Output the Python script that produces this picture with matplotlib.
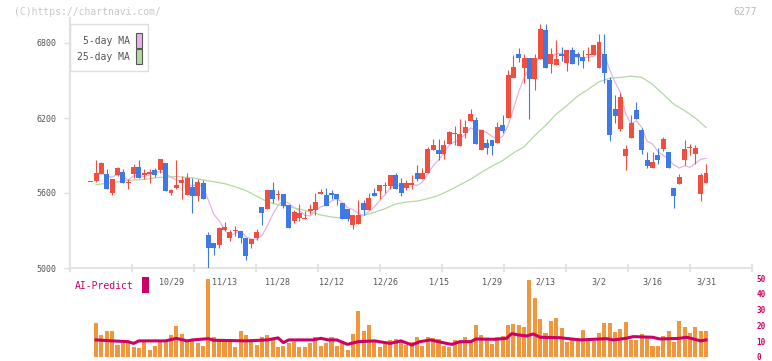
import numpy as np
import pandas as pd
import matplotlib
matplotlib.use('Agg')
import matplotlib.pyplot as plt
from matplotlib.patches import Rectangle
import matplotlib.transforms as mtransforms

# daily candles (oldest first)
opens = [5686, 5700, 5755, 5755, 5603, 5741, 5768, 5677, 5755, 5808,
         5744, 5752, 5784, 5787, 5840, 5603, 5643, 5683, 5587, 5648,
         5579, 5680, 5264, 5200, 5184, 5304, 5240, 5293, 5296, 5240,
         5192, 5240, 5488, 5472, 5624, 5588, 5592, 5504, 5376, 5400,
         5396, 5456, 5464, 5592, 5584, 5600, 5592, 5520, 5472, 5344,
         5352, 5520, 5464, 5600, 5616, 5660, 5656, 5744, 5680, 5640,
         5664, 5760, 5712, 5760, 5944, 5944, 5912, 5992, 6076, 5979,
         6080, 6176, 6184, 5944, 6000, 6024, 6000, 6144, 6197, 6520,
         6712, 6600, 6680, 6512, 6672, 6904, 6632, 6624, 6712, 6640,
         6744, 6712, 6688, 6704, 6704, 6600, 6712, 6504, 6272, 6112,
         5896, 6040, 6264, 6104, 5864, 5800, 5904, 5952, 5928, 5640,
         5672, 5864, 5960, 5912, 5592, 5680]
highs = [5690, 5864, 5845, 5792, 5715, 5810, 5792, 5712, 5832, 5867,
         5792, 5792, 5800, 5872, 5840, 5632, 5864, 5736, 5760, 5723,
         5715, 5704, 5288, 5200, 5331, 5368, 5301, 5336, 5296, 5240,
         5232, 5309, 5488, 5624, 5688, 5624, 5592, 5504, 5464, 5512,
         5456, 5512, 5600, 5632, 5640, 5624, 5592, 5520, 5472, 5424,
         5544, 5544, 5600, 5640, 5664, 5688, 5744, 5760, 5720, 5704,
         5744, 5824, 5800, 5968, 6032, 6032, 6024, 6096, 6136, 6192,
         6184, 6274, 6208, 6104, 6032, 6024, 6168, 6224, 6584, 6704,
         6760, 6712, 6680, 6712, 6952, 6952, 6760, 6824, 6768, 6744,
         6768, 6728, 6744, 6768, 6784, 6872, 6872, 6528, 6384, 6400,
         5984, 6224, 6328, 6120, 5928, 5928, 5960, 6048, 5928, 5640,
         5752, 6024, 5992, 5984, 5760, 5832]
lows = [5686, 5690, 5752, 5635, 5587, 5735, 5683, 5632, 5723, 5723,
        5712, 5683, 5728, 5763, 5619, 5587, 5635, 5555, 5587, 5443,
        5539, 5552, 5000, 5104, 5157, 5296, 5219, 5256, 5200, 5064,
        5160, 5224, 5344, 5472, 5520, 5544, 5480, 5320, 5360, 5379,
        5392, 5432, 5424, 5592, 5496, 5552, 5504, 5392, 5376, 5312,
        5352, 5424, 5464, 5576, 5552, 5600, 5632, 5632, 5576, 5624,
        5632, 5696, 5712, 5760, 5944, 5864, 5872, 5992, 5984, 5979,
        6040, 6176, 5992, 5944, 5912, 5904, 6000, 6080, 6197, 6520,
        6648, 6480, 6192, 6424, 6672, 6600, 6560, 6624, 6656, 6576,
        6632, 6624, 6600, 6656, 6704, 6600, 6480, 6016, 6160, 6096,
        5784, 6040, 6192, 5912, 5800, 5800, 5832, 5936, 5800, 5480,
        5672, 5824, 5904, 5832, 5536, 5680]
closes = [5690, 5760, 5840, 5635, 5712, 5800, 5683, 5683, 5808, 5723,
          5760, 5768, 5747, 5872, 5619, 5624, 5664, 5704, 5720, 5579,
          5688, 5552, 5163, 5163, 5323, 5328, 5288, 5299, 5240, 5099,
          5232, 5288, 5440, 5624, 5552, 5596, 5496, 5320, 5448, 5440,
          5404, 5472, 5528, 5608, 5496, 5584, 5552, 5392, 5392, 5424,
          5424, 5464, 5560, 5576, 5664, 5668, 5744, 5632, 5600, 5680,
          5680, 5712, 5760, 5952, 5984, 5912, 5984, 6088, 6084, 6072,
          6128, 6232, 5992, 6104, 5960, 5976, 6128, 6096, 6544, 6608,
          6680, 6680, 6512, 6680, 6912, 6600, 6712, 6672, 6696, 6744,
          6632, 6688, 6656, 6712, 6784, 6808, 6560, 6064, 6216, 6368,
          5952, 6160, 6192, 5944, 5816, 5848, 5864, 6032, 5800, 5576,
          5728, 5952, 5968, 5960, 5744, 5760]

# volume (right scale, first day has no bar)
volumes = [np.nan, 21.7, 13.9, 16.3, 16.3, 7.6, 8.6, 8.6, 6.5, 5.9,
           9.3, 4.4, 7.0, 9.3, 9.7, 13.9, 19.6, 14.6, 9.7, 10.8,
           9.1, 7.2, 49.4, 12.9, 10.8, 10.1, 10.1, 6.5, 16.3, 13.9,
           9.7, 7.6, 12.5, 13.9, 11.8, 6.5, 7.0, 9.1, 9.7, 6.5,
           6.5, 9.1, 12.5, 7.0, 8.6, 12.5, 7.0, 9.1, 4.4, 14.6,
           29.3, 16.7, 20.3, 9.7, 6.5, 8.3, 10.8, 11.4, 9.7, 7.6,
           9.3, 12.5, 7.0, 12.5, 11.8, 11.2, 7.0, 6.1, 10.8, 10.3,
           12.5, 10.8, 20.3, 13.7, 11.8, 8.2, 12.5, 13.3, 20.3, 20.9,
           20.3, 19.0, 48.7, 37.1, 24.0, 15.4, 22.8, 24.7, 18.4, 9.7,
           10.8, 11.8, 17.1, 10.8, 9.9, 15.2, 21.7, 21.7, 15.8, 17.7,
           22.2, 10.8, 10.8, 14.6, 11.8, 7.0, 7.0, 13.3, 16.5, 9.7,
           22.6, 19.0, 15.4, 19.0, 16.5, 16.5]

# AI-Predict line (index, value)
ai_idx = [1, 4, 7, 8, 9, 14, 16, 18, 19, 22, 23, 29, 33, 35, 36, 37, 41.5, 43,
          44.5, 46, 48, 50, 53, 56, 58, 60, 61.5, 63.5, 66.5, 67.5, 69, 71, 72,
          75.5, 77.7, 78.7, 80, 81.5, 82.7, 84, 87.7, 91.5, 94, 96.4, 97.7,
          100, 101.4, 105, 106.4, 110, 111.4, 114, 115]
ai_val = [10.8, 10.2, 9.7, 8.6, 10.2, 10.2, 11.8, 10.2, 10.8, 11.6, 10.6, 10.2,
          10.8, 12.1, 9.1, 10.8, 10.8, 11.8, 10.8, 10.8, 8.0, 9.7, 10.2, 8.6,
          10.2, 7.6, 9.7, 10.8, 8.6, 8.0, 9.7, 9.7, 11.4, 11.2, 11.8, 14.8,
          13.9, 13.3, 14.6, 12.5, 12.2, 10.8, 11.2, 11.6, 10.8, 11.8, 12.9,
          12.5, 11.4, 11.8, 12.5, 10.2, 10.8]

# 25-day moving average (index, value)
ma25_idx = [1, 4, 7, 10, 13, 16, 19, 21, 23, 25, 27, 29, 31, 33, 35, 37, 39,
            41, 43, 45, 47, 49, 51, 53, 55, 57, 59, 61, 63, 65, 67, 69, 71,
            73, 75, 77, 79, 81, 83, 85, 87, 89, 91, 93, 95, 97, 99, 101, 103,
            105, 107, 109, 111, 113, 115]
ma25_val = [5667, 5683, 5700, 5710, 5725, 5731, 5722, 5705, 5690, 5675, 5650,
            5620, 5575, 5530, 5506, 5490, 5472, 5450, 5424, 5408, 5400, 5405,
            5420, 5445, 5475, 5512, 5528, 5535, 5555, 5580, 5620, 5665, 5710,
            5765, 5815, 5860, 5920, 5970, 6060, 6140, 6230, 6300, 6375, 6430,
            6490, 6518, 6525, 6535, 6525, 6470, 6390, 6310, 6260, 6200, 6125]

date_idx = [15, 25, 35, 45, 55, 65, 75, 85, 95, 105, 115]
date_labels = ['10/29', '11/13', '11/28', '12/12', '12/26', '1/15',
               '1/29', '2/13', '3/2', '3/16', '3/31']
price_ticks = [5000, 5600, 6200, 6800]
vol_ticks = [0, 10, 20, 30, 40, 50]

UP = '#f04e3e'
DOWN = '#3d7ae8'
MAGENTA = '#cc0066'
MONO = 'DejaVu Sans Mono'

W, H = 772, 361
fig = plt.figure(figsize=(W / 100, H / 100), dpi=100)


def px_axes(l, t, r, b):
    return fig.add_axes([l / W, 1 - b / H, (r - l) / W, (b - t) / H])


x = np.arange(len(closes))
xlim = ((70 - 90.75) / 5.35, (752 - 90.75) / 5.35)

# price panel
ax = px_axes(70, 18, 752, 268)
o = np.array(opens)
c = np.array(closes)
colors = [UP if cc >= oo else DOWN for oo, cc in zip(o, c)]
ax.vlines(x, lows, highs, colors=colors, linewidth=0.8, zorder=3)
body = np.where(np.abs(c - o) < 8, 8, c - o)
ax.bar(x, body, bottom=o, width=0.92, color=colors, linewidth=0, zorder=4)

ma5 = pd.Series(closes).rolling(5, min_periods=1).mean()
ax.plot(x[1:], ma5[1:], color='#e6b3e8', linewidth=0.9, zorder=2)
ax.plot(ma25_idx, ma25_val, color='#b3d9a3', linewidth=0.9, zorder=2)

ax.set_xlim(*xlim)
ax.set_ylim(5000, 7000)
for s in ['top', 'right']:
    ax.spines[s].set_visible(False)
for s in ['left', 'bottom']:
    ax.spines[s].set_color('#e3e3e3')
    ax.spines[s].set_linewidth(1.5)
ax.set_yticks(price_ticks)
ax.set_yticklabels([str(p) for p in price_ticks], fontsize=6, color='#555555',
                   family=MONO)
ax.tick_params(axis='y', length=4, width=1, color='#dddddd', pad=6)
ax.set_xticks(np.linspace(xlim[0], xlim[1], 12))
ax.set_xticklabels([])
ax.tick_params(axis='x', length=6, width=1.5, color='#e3e3e3', direction='inout')

trans = mtransforms.blended_transform_factory(ax.transData, ax.transAxes)
for i, lab in zip(date_idx, date_labels):
    ax.text(i, -0.056, lab, transform=trans, ha='center', va='center',
            fontsize=6, color='#555555', family=MONO, clip_on=False)

# volume panel
vax = px_axes(70, 278, 752, 357)
vax.bar(x, volumes, width=0.75, color='#f0963c', linewidth=0, zorder=2)
vax.plot(ai_idx, ai_val, color=MAGENTA, linewidth=2.2, zorder=3)
vax.set_xlim(*xlim)
vax.set_ylim(0, 50)
for s in vax.spines.values():
    s.set_visible(False)
vax.set_xticks([])
vax.yaxis.tick_right()
vax.set_yticks(vol_ticks)
vax.set_yticklabels([str(v) for v in vol_ticks], fontsize=5.5, color=MAGENTA,
                    family=MONO, fontweight='bold')
vax.tick_params(axis='y', length=0, pad=3)
vax.patch.set_alpha(0)

# header texts
fig.text(14 / W, 1 - 12 / H, '(C)https://chartnavi.com/', fontsize=7,
         color='#c8c8c8', family=MONO, va='center', ha='left')
fig.text(757 / W, 1 - 12 / H, '6277', fontsize=7, color='#bbbbbb',
         family=MONO, va='center', ha='right')

# legend box
fig.add_artist(Rectangle((70 / W, 1 - 71 / H), 78 / W, 47 / H,
                         transform=fig.transFigure, facecolor='white',
                         edgecolor='#dddddd', linewidth=1, zorder=10))
for label, col, ty in [('5-day MA', '#e6b3e8', 41), ('25-day MA', '#b3d9a3', 57)]:
    fig.text(130 / W, 1 - ty / H, label, fontsize=7, color='#555555',
             family=MONO, ha='right', va='center', zorder=11)
    fig.add_artist(Rectangle((136 / W, 1 - (ty + 7) / H), 6 / W, 15 / H,
                             transform=fig.transFigure, facecolor=col,
                             edgecolor='#555555', linewidth=0.8, zorder=11))

# AI-Predict label
fig.text(75 / W, 1 - 286 / H, 'AI-Predict', fontsize=7, color=MAGENTA,
         family=MONO, ha='left', va='center')
fig.add_artist(Rectangle((142 / W, 1 - 293 / H), 7 / W, 16 / H,
                         transform=fig.transFigure, facecolor=MAGENTA,
                         edgecolor='none', zorder=11))

fig.savefig('out.png', dpi=100)
